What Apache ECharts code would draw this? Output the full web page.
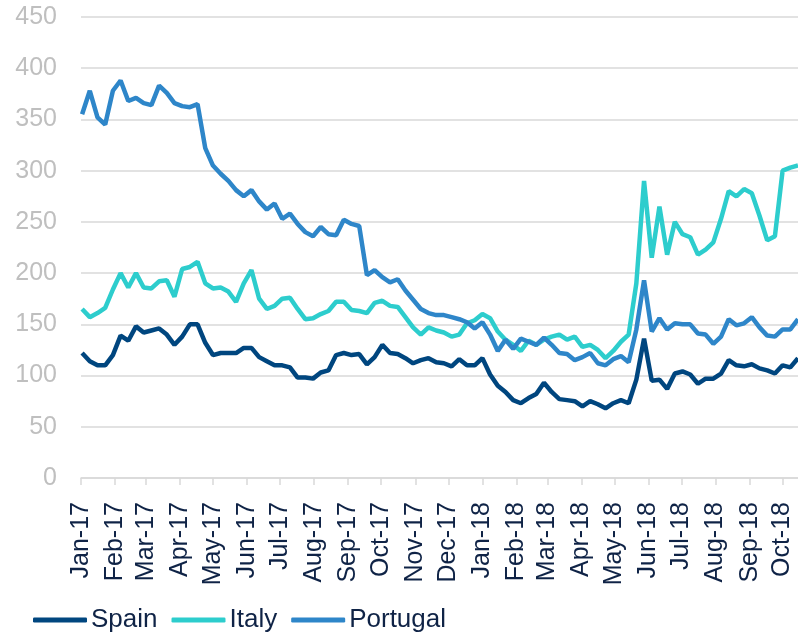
<!DOCTYPE html>
<html>
<head>
<meta charset="utf-8">
<script src="https://cdn.jsdelivr.net/npm/echarts@6/dist/echarts.min.js"></script>
<style>
  html, body { margin: 0; padding: 0; background: #fff; }
  #chart { width: 798px; height: 632px; }
</style>
</head>
<body>
<div id="chart"></div>
<script>
// weekly readings, Mondays from 2 Jan 2017 to 15 Oct 2018
const firstWeek = [2017, 0, 2];
const weekCount = 94;

const spain = [
  122, 114, 110, 110, 120, 139, 134, 148, 142, 144, 146, 140, 130, 138, 150, 150,
  132, 120, 122, 122, 122, 127, 127, 118, 114, 110, 110, 108, 98, 98, 97,
  103, 105, 120, 122, 120, 121, 111, 118, 130, 122, 121, 117, 112, 115, 117, 113,
  112, 109, 116, 110, 110, 117, 101, 90, 84, 76, 73, 78, 82, 93, 84, 77,
  76, 75, 70, 75, 72, 68, 73, 76, 73, 96, 136, 95, 96, 87,
  102, 104, 101, 92, 97, 97, 102, 115, 110, 109, 111, 107, 105, 102, 110, 108, 117
];
const italy = [
  165, 157, 161, 166, 184, 200, 186, 200, 186, 185, 192, 193, 177, 204, 206, 211,
  190, 185, 186, 182, 172, 190, 203, 175, 165, 168, 175, 176, 165, 155, 156,
  160, 163, 172, 172, 164, 163, 161, 171, 173, 168, 167, 157, 147, 140, 147, 144,
  142, 138, 140, 151, 154, 160, 156, 143, 135, 130, 124, 134, 130, 135, 138, 140,
  135, 138, 128, 130, 125, 117, 124, 133, 140, 190, 290, 215, 265, 218,
  250, 238, 235, 218, 223, 230, 253, 280, 275, 282, 278, 256, 232, 236, 300, 303, 305
];
const portugal = [
  355, 378, 352, 345, 378, 388, 368, 371, 366, 364, 383, 376, 366, 363, 362, 365,
  322, 305, 297, 290, 281, 275, 281, 270, 262, 268, 253, 258, 248, 240, 236,
  245, 238, 237, 252, 248, 246, 198, 203, 196, 191, 194, 183, 174, 165, 161, 159,
  159, 157, 155, 152, 146, 152, 140, 124, 135, 126, 136, 133, 130, 137, 130, 122,
  121, 115, 118, 122, 112, 110, 116, 119, 113, 145, 193, 143, 156, 145,
  151, 150, 150, 141, 140, 131, 138, 155, 149, 151, 157, 147, 139, 138, 145, 145, 155
];
const monthNames = ['Jan', 'Feb', 'Mar', 'Apr', 'May', 'Jun', 'Jul', 'Aug', 'Sep', 'Oct', 'Nov', 'Dec'];

let dates = [];
for (let i = 0; i < weekCount; i++) {
  dates.push(+new Date(firstWeek[0], firstWeek[1], firstWeek[2] + 7 * i));
}
const pairs = (vals) => vals.map((v, i) => [dates[i], v]);

const DAY = 24 * 3600 * 1000;
let chart = echarts.init(document.getElementById('chart'), null, {renderer: 'canvas'});
chart.setOption({
  animation: false,
  color: ['#00467f', '#2dcdcd', '#2e86c9'],
  grid: {left: 81, right: 0, top: 17, bottom: 154, containLabel: false},
  legend: {
    left: 28,
    top: 602,
    icon: 'roundRect',
    itemWidth: 54,
    itemHeight: 5,
    itemGap: 14,
    textStyle: {fontFamily: 'Liberation Sans', fontSize: 26, color: '#0f2346', padding: [0, 0, 0, -1]},
    data: ['Spain', 'Italy', 'Portugal']
  },
  xAxis: {
    type: 'time',
    min: +new Date(2017, 0, 1),
    max: +new Date(2018, 9, 15),
    splitNumber: 22,
    minInterval: 28 * DAY,
    maxInterval: 31 * DAY,
    axisLine: {lineStyle: {color: '#d9d9d9', width: 1.5}},
    axisTick: {show: true, length: 7, lineStyle: {color: '#d9d9d9', width: 1.5}},
    splitLine: {show: false},
    axisLabel: {
      rotate: 90,
      margin: 24,
      hideOverlap: false,
      showMinLabel: true,
      fontFamily: 'Liberation Sans',
      fontSize: 25,
      color: '#0f2346',
      formatter: (v) => {
        let d = new Date(v);
        return monthNames[d.getMonth()] + '-' + String(d.getFullYear()).slice(2);
      }
    }
  },
  yAxis: {
    type: 'value',
    min: 0,
    max: 450,
    interval: 50,
    axisLine: {show: false},
    axisTick: {show: false},
    splitLine: {lineStyle: {color: '#d9d9d9', width: 1.5}},
    axisLabel: {margin: 24, fontFamily: 'Liberation Sans', fontSize: 25, color: '#bfbfbf'}
  },
  series: [
    {name: 'Spain', type: 'line', data: pairs(spain), showSymbol: false, symbol: 'none', lineStyle: {width: 4.5}},
    {name: 'Italy', type: 'line', data: pairs(italy), showSymbol: false, symbol: 'none', lineStyle: {width: 4.5}},
    {name: 'Portugal', type: 'line', data: pairs(portugal), showSymbol: false, symbol: 'none', lineStyle: {width: 4.5}}
  ]
});
</script>
</body>
</html>
